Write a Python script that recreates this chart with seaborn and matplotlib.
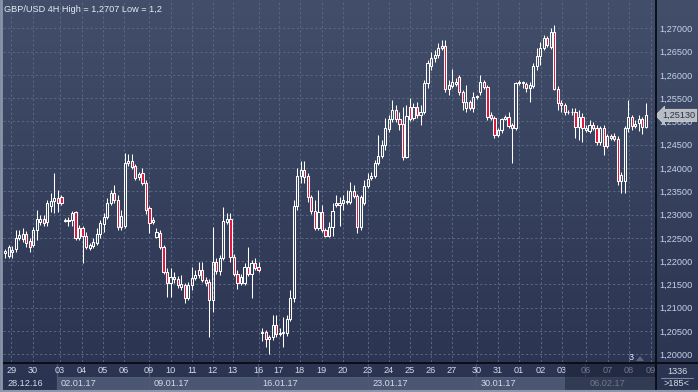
import numpy as np
import pandas as pd
import seaborn as sns
import matplotlib
matplotlib.use("Agg")
import matplotlib.pyplot as plt
from matplotlib.patches import Rectangle, Polygon
from matplotlib.colors import LinearSegmentedColormap
import matplotlib.transforms as mtransforms

# ---------------- data ----------------
title = "GBP/USD 4H High = 1,2707 Low = 1,2"

opens = [
1.2218,1.2211,1.2220,1.2226,1.2250,1.2248,1.2258,1.2243,1.2235,1.2267,
1.2284,1.2291,1.2284,1.2318,1.2330,1.2336,1.2338,1.2288,1.2286,1.2288,
1.2306,1.2250,1.2271,1.2254,1.2228,1.2233,1.2239,1.2258,1.2280,1.2295,
1.2325,1.2346,1.2331,1.2273,1.2276,1.2411,1.2415,1.2404,1.2381,1.2389,
1.2368,1.2314,1.2284,1.2252,1.2261,1.2230,1.2177,1.2153,1.2166,1.2162,
1.2145,1.2149,1.2121,1.2149,1.2164,1.2170,1.2181,1.2160,1.2155,1.2117,
1.2198,1.2179,1.2207,1.2284,1.2291,1.2209,1.2173,1.2153,1.2153,1.2188,
1.2173,1.2196,1.2188,1.2048,1.2048,1.2033,1.2037,1.2063,1.2044,1.2046,
1.2046,1.2076,1.2121,1.2318,1.2383,1.2396,1.2383,1.2338,1.2308,1.2271,
1.2306,1.2267,1.2254,1.2273,1.2325,1.2321,1.2325,1.2327,1.2327,1.2351,
1.2340,1.2273,1.2325,1.2361,1.2379,1.2383,1.2411,1.2426,1.2449,1.2484,
1.2505,1.2525,1.2505,1.2495,1.2424,1.2531,1.2507,1.2531,1.2514,1.2520,
1.2583,1.2619,1.2636,1.2643,1.2658,1.2662,1.2570,1.2576,1.2580,1.2595,
1.2563,1.2529,1.2542,1.2529,1.2552,1.2563,1.2585,1.2574,1.2514,1.2507,
1.2471,1.2482,1.2505,1.2510,1.2492,1.2486,1.2583,1.2583,1.2580,1.2572,
1.2576,1.2619,1.2641,1.2658,1.2679,1.2660,1.2692,1.2570,1.2540,1.2535,
1.2520,1.2521,1.2520,1.2488,1.2510,1.2482,1.2480,1.2492,1.2486,1.2456,
1.2486,1.2447,1.2464,1.2469,1.2462,1.2372,1.2372,1.2486,1.2510,1.2490,
1.2497,1.2505,1.2488]

highs = [
1.2226,1.2235,1.2233,1.2267,1.2267,1.2271,1.2265,1.2250,1.2273,1.2310,
1.2299,1.2299,1.2331,1.2346,1.2389,1.2353,1.2342,1.2293,1.2295,1.2308,
1.2308,1.2278,1.2276,1.2263,1.2239,1.2250,1.2271,1.2288,1.2304,1.2336,
1.2353,1.2364,1.2342,1.2310,1.2432,1.2430,1.2430,1.2409,1.2392,1.2400,
1.2374,1.2319,1.2295,1.2271,1.2267,1.2235,1.2185,1.2185,1.2177,1.2168,
1.2170,1.2153,1.2155,1.2188,1.2181,1.2198,1.2198,1.2166,1.2162,1.2273,
1.2207,1.2213,1.2316,1.2304,1.2304,1.2215,1.2181,1.2172,1.2196,1.2230,
1.2203,1.2207,1.2198,1.2057,1.2052,1.2042,1.2084,1.2084,1.2057,1.2080,
1.2084,1.2138,1.2331,1.2400,1.2415,1.2415,1.2389,1.2342,1.2331,1.2353,
1.2321,1.2271,1.2284,1.2325,1.2342,1.2338,1.2342,1.2353,1.2370,1.2364,
1.2344,1.2342,1.2374,1.2389,1.2392,1.2417,1.2471,1.2460,1.2507,1.2514,
1.2546,1.2535,1.2520,1.2531,1.2535,1.2550,1.2540,1.2542,1.2535,1.2589,
1.2632,1.2649,1.2653,1.2668,1.2675,1.2675,1.2589,1.2613,1.2593,1.2600,
1.2568,1.2578,1.2546,1.2563,1.2557,1.2600,1.2589,1.2578,1.2520,1.2512,
1.2486,1.2507,1.2514,1.2520,1.2497,1.2585,1.2589,1.2587,1.2585,1.2585,
1.2626,1.2658,1.2671,1.2686,1.2684,1.2701,1.2707,1.2576,1.2546,1.2540,
1.2525,1.2529,1.2529,1.2525,1.2518,1.2492,1.2503,1.2499,1.2492,1.2490,
1.2492,1.2473,1.2473,1.2475,1.2469,1.2391,1.2490,1.2546,1.2514,1.2503,
1.2514,1.2510,1.2540]

lows = [
1.2207,1.2207,1.2207,1.2220,1.2246,1.2241,1.2230,1.2220,1.2230,1.2246,
1.2278,1.2276,1.2276,1.2306,1.2304,1.2306,1.2321,1.2284,1.2276,1.2276,
1.2246,1.2246,1.2196,1.2226,1.2224,1.2228,1.2235,1.2250,1.2263,1.2291,
1.2321,1.2325,1.2267,1.2267,1.2271,1.2404,1.2398,1.2374,1.2374,1.2364,
1.2301,1.2261,1.2280,1.2250,1.2226,1.2173,1.2123,1.2123,1.2153,1.2142,
1.2138,1.2110,1.2117,1.2138,1.2160,1.2164,1.2155,1.2147,1.2037,1.2091,
1.2173,1.2170,1.2203,1.2280,1.2198,1.2168,1.2140,1.2149,1.2149,1.2168,
1.2121,1.2181,1.2177,1.2029,1.2016,1.2001,1.2031,1.2037,1.2039,1.2016,
1.2039,1.2072,1.2112,1.2310,1.2368,1.2368,1.2327,1.2301,1.2267,1.2267,
1.2263,1.2252,1.2252,1.2254,1.2316,1.2276,1.2310,1.2323,1.2323,1.2336,
1.2261,1.2267,1.2321,1.2357,1.2374,1.2379,1.2406,1.2422,1.2439,1.2477,
1.2499,1.2499,1.2482,1.2417,1.2422,1.2501,1.2503,1.2507,1.2492,1.2516,
1.2572,1.2610,1.2628,1.2636,1.2653,1.2563,1.2557,1.2572,1.2576,1.2557,
1.2525,1.2520,1.2525,1.2520,1.2548,1.2557,1.2570,1.2503,1.2503,1.2464,
1.2467,1.2475,1.2503,1.2486,1.2411,1.2482,1.2578,1.2572,1.2563,1.2542,
1.2572,1.2610,1.2621,1.2653,1.2660,1.2656,1.2568,1.2525,1.2520,1.2514,
1.2516,1.2514,1.2464,1.2460,1.2456,1.2477,1.2475,1.2482,1.2449,1.2449,
1.2428,1.2443,1.2460,1.2458,1.2364,1.2346,1.2346,1.2477,1.2482,1.2486,
1.2480,1.2473,1.2486]

closes = [
1.2222,1.2230,1.2224,1.2250,1.2256,1.2258,1.2239,1.2230,1.2267,1.2291,
1.2291,1.2282,1.2325,1.2330,1.2336,1.2325,1.2325,1.2286,1.2288,1.2304,
1.2250,1.2271,1.2254,1.2230,1.2235,1.2241,1.2258,1.2282,1.2295,1.2325,
1.2346,1.2331,1.2273,1.2297,1.2411,1.2415,1.2402,1.2379,1.2387,1.2368,
1.2310,1.2282,1.2288,1.2263,1.2230,1.2177,1.2153,1.2166,1.2162,1.2149,
1.2151,1.2121,1.2149,1.2164,1.2170,1.2181,1.2160,1.2153,1.2117,1.2198,
1.2179,1.2207,1.2286,1.2291,1.2209,1.2173,1.2153,1.2166,1.2188,1.2173,
1.2196,1.2185,1.2181,1.2046,1.2033,1.2037,1.2063,1.2044,1.2046,1.2048,
1.2076,1.2121,1.2318,1.2383,1.2396,1.2381,1.2338,1.2308,1.2271,1.2306,
1.2267,1.2254,1.2273,1.2308,1.2321,1.2325,1.2331,1.2329,1.2351,1.2340,
1.2273,1.2338,1.2361,1.2376,1.2383,1.2411,1.2426,1.2449,1.2486,1.2505,
1.2525,1.2505,1.2495,1.2424,1.2512,1.2505,1.2531,1.2514,1.2520,1.2583,
1.2626,1.2636,1.2643,1.2658,1.2662,1.2570,1.2578,1.2585,1.2585,1.2563,
1.2542,1.2542,1.2529,1.2552,1.2555,1.2585,1.2574,1.2510,1.2507,1.2471,
1.2482,1.2505,1.2510,1.2490,1.2486,1.2583,1.2585,1.2584,1.2572,1.2578,
1.2619,1.2641,1.2658,1.2679,1.2664,1.2692,1.2570,1.2540,1.2535,1.2520,
1.2521,1.2520,1.2488,1.2510,1.2486,1.2486,1.2492,1.2486,1.2456,1.2486,
1.2447,1.2469,1.2469,1.2462,1.2372,1.2385,1.2486,1.2510,1.2490,1.2495,
1.2505,1.2488,1.2513]

day_labels = ["29", "30", "03", "04", "05", "06", "09", "10", "11", "12", "13",
              "16", "17", "18", "19", "20", "23", "24", "25", "26", "27",
              "30", "31", "01", "02", "03", "06", "07", "08", "09"]
day_pos = [1.8, 7.8, 15.5, 21.7, 27.7, 33.7, 40.8, 47.0, 53.0, 59.0, 64.6,
           72.0, 77.7, 83.7, 89.9, 95.9, 103.0, 109.0, 115.0, 120.9, 126.8,
           134.0, 139.9, 145.9, 152.1, 158.1, 164.9, 171.2, 177.1, 183.4]
week_labels = ["28.12.16", "02.01.17", "09.01.17", "16.01.17", "23.01.17", "30.01.17", "06.02.17"]
week_start = [-0.6, 14.6, 40.8, 71.7, 103.0, 133.7, 164.6]
price_ticks = [1.200, 1.205, 1.210, 1.215, 1.220, 1.225, 1.230, 1.235,
               1.240, 1.245, 1.250, 1.255, 1.260, 1.265, 1.270]
last_price = 1.2513
corner_top = "1336"
corner_bottom = ">185<"

# ---------------- style ----------------
sns.set_theme(style="dark")
plt.rcParams['font.family'] = ['Liberation Sans', 'DejaVu Sans']

n = min(len(opens), len(highs), len(lows), len(closes))
df = pd.DataFrame({"i": np.arange(n), "open": opens[:n], "high": highs[:n],
                   "low": lows[:n], "close": closes[:n]})
df["top"] = df[["open", "close"]].max(axis=1)
df["bot"] = df[["open", "close"]].min(axis=1)
df["up"] = df["close"] >= df["open"]

W, H = 698, 392
TXT = '#d3dbea'
fig = plt.figure(figsize=(W / 100, H / 100), dpi=100)

# gradient background
bg = fig.add_axes([0, 0, 1, 1], zorder=0)
cmap = LinearSegmentedColormap.from_list('bg', ['#424e6a', '#2a3350'])
bg.imshow(np.linspace(0, 1, 256).reshape(-1, 1), aspect='auto', cmap=cmap,
          extent=[0, W, H, 0], interpolation='bilinear')
bg.set_xlim(0, W); bg.set_ylim(H, 0); bg.axis('off')

# main plot
PL, PR, PB = 3, 655, 362
ax = fig.add_axes([PL / W, (H - PB) / H, (PR - PL) / W, PB / H], zorder=2)
ax.set_facecolor('none')
ax.set_xlim(-0.6, 184.6)
ax.set_ylim(1.19836, 1.27608)
for s in ax.spines.values():
    s.set_visible(False)

ax.set_yticks(price_ticks)
ax.set_yticklabels([f"{v:.5f}".replace('.', ',') for v in price_ticks])
ax.yaxis.tick_right()
ax.tick_params(axis='y', length=0, pad=3, labelsize=6.6, labelcolor='#c6d2e8')
ax.set_xticks(day_pos)
ax.set_xticklabels(day_labels)
ax.tick_params(axis='x', length=0, pad=3.2, labelsize=6.6, labelcolor=TXT)
ax.grid(True, color='#59667f', linestyle=(0, (2.2, 2.2)), linewidth=0.75)
ax.set_axisbelow(True)

# candles
lw = 0.75
ax.vlines(df["i"], df["low"], df["bot"], color='white', linewidth=lw, zorder=3)
ax.vlines(df["i"], df["top"], df["high"], color='white', linewidth=lw, zorder=3)
hgt = (df["top"] - df["bot"]).clip(lower=0.00012)
up = df[df["up"]]
dn = df[~df["up"]]
ax.bar(up["i"], hgt[df["up"]], bottom=up["bot"], width=0.62, facecolor='none',
       edgecolor='white', linewidth=lw, zorder=4)
ax.bar(dn["i"], hgt[~df["up"]], bottom=dn["bot"], width=0.62, facecolor='#e0143c',
       edgecolor='white', linewidth=lw, zorder=4)

# week boxes in the date strip (drawn beneath the tick labels)
bt = mtransforms.blended_transform_factory(ax.transData, ax.transAxes)
px = 1.0 / PB
ends = week_start[1:] + [184.6]
for k, (ws, we, lab) in enumerate(zip(week_start, ends, week_labels)):
    if k > 0:
        ax.add_patch(Rectangle((ws, -(390 - PB) * px), we - ws, 13 * px, transform=bt,
                               clip_on=False, facecolor='#4a5672', edgecolor='#56627e',
                               linewidth=0.6, zorder=0.2))
        ax.plot([ws, ws], [0, -(390 - PB) * px], transform=bt, clip_on=False,
                color='#4d5975', lw=0.9, zorder=0.3)
    ax.text(ws + 1.3, -(384 - PB) * px, lab, transform=bt, ha='left', va='center',
            fontsize=6.6, color=TXT, clip_on=False, zorder=2)
# dark overlay on the latest section
ax.add_patch(Rectangle((159.0, -(H - PB) * px), 184.6 - 159.0, (H - PB) * px,
                       transform=bt, clip_on=False, facecolor='#1e253a',
                       alpha=0.55, edgecolor='none', zorder=6))

# current price tag
tt = mtransforms.blended_transform_factory(ax.transAxes, ax.transData)
ax.text(1.0 + 7 / (PR - PL), last_price, f"{last_price:.5f}".replace('.', ','),
        transform=tt, ha='left', va='center', fontsize=6.6, color='#2b3142',
        bbox=dict(boxstyle='larrow,pad=0.18', fc='#b8bcc4', ec='#d5d8de', lw=0.5),
        clip_on=False, zorder=7)

# chrome overlay in pixel units
ov = fig.add_axes([0, 0, 1, 1], zorder=3)
ov.set_xlim(0, W); ov.set_ylim(H, 0); ov.axis('off'); ov.patch.set_alpha(0)
ov.plot([PR + 0.5, PR + 0.5], [0, H], color='#080b12', lw=1.3)
ov.plot([0, W], [PB + 0.5, PB + 0.5], color='#080b12', lw=1.3)
ov.plot([1, 1], [0, H], color='#8b96ab', lw=2.0)
ov.plot([0, W], [H - 1, H - 1], color='#8b96ab', lw=1.5)
ov.text(4, 9, title, fontsize=6.6, color='#e6ebf3', ha='left', va='center')
ov.text(677, 371, corner_top, fontsize=6.6, color=TXT, ha='center', va='center')
ov.plot([661, 693], [377.5, 377.5], color='#7d889e', lw=0.8)
ov.text(677, 384, corner_bottom, fontsize=6.6, color=TXT, ha='center', va='center')
ov.text(631, 357, "3", fontsize=6.6, color='#e6ebf3', ha='center', va='center')
ov.add_patch(Polygon([[636, 361], [644, 361], [640, 356]], closed=True,
                     facecolor='#5a6782', edgecolor='none'))

fig.savefig("out.png", dpi=100)
